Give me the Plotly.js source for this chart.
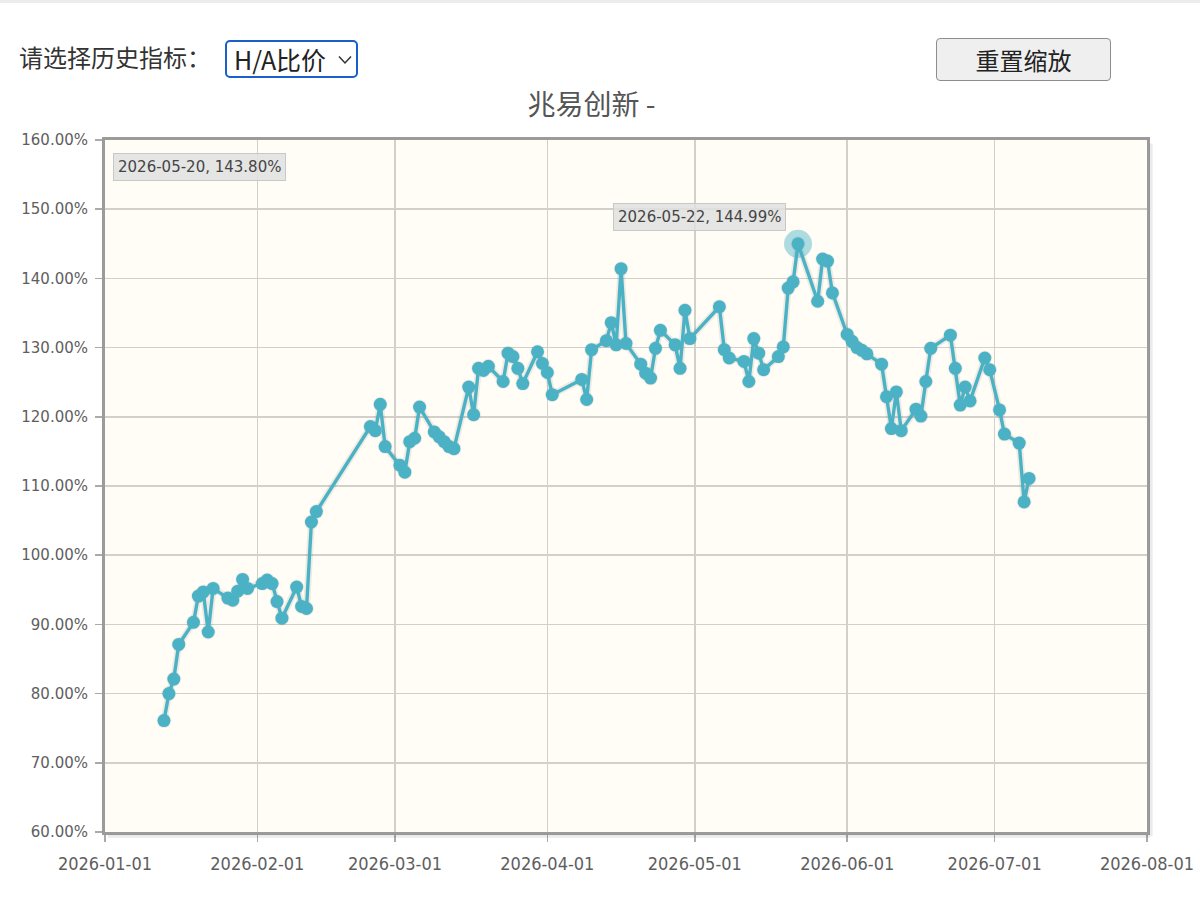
<!DOCTYPE html>
<html>
<head>
<meta charset="utf-8">
<script src="https://cdn.plot.ly/plotly-3.0.1.min.js"></script>
<style>
  html, body { margin:0; padding:0; background:#ffffff; width:1200px; height:899px; overflow:hidden; }
  #topline { position:absolute; left:0; top:0; width:1200px; height:3px; background:#ececec; }
  #lbl { position:absolute; left:19px; top:42px; font-family:"Noto Sans CJK SC", sans-serif; font-size:24px; color:#333; line-height:30px; }
  #sel { position:absolute; left:225px; top:40px; width:129px; height:34px; border:2.5px solid #1b5fc8; border-radius:5px; box-sizing:content-box;
         font-family:"Noto Sans CJK SC", sans-serif; font-size:25px; color:#222; line-height:34px; }
  #sel .t { position:absolute; left:7px; top:0; white-space:nowrap; }
  #sel svg { position:absolute; left:111px; top:13px; }
  #btn { position:absolute; left:936px; top:38px; width:173px; height:41px; background:#efefef; border:1.5px solid #8d8d8d; border-radius:4px;
         font-family:"Noto Sans CJK SC", sans-serif; font-size:24px; color:#222; line-height:41px; text-align:center; }
  #chart { position:absolute; left:0; top:0; width:1200px; height:899px; }
</style>
</head>
<body>
<div id="chart"></div>
<div id="topline"></div>
<div id="lbl">请选择历史指标：</div>
<div id="sel"><span class="t">H/A比价</span><svg width="14" height="10" viewBox="0 0 14 10"><polyline points="1,1.5 7,8 13,1.5" fill="none" stroke="#333" stroke-width="1.5"/></svg></div>
<div id="btn">重置缩放</div>
<script>
// ---- data ----
const chartTitle = "兆易创新 -";
const dates = [
  "2026-01-13","2026-01-14","2026-01-15","2026-01-16","2026-01-19","2026-01-20","2026-01-21","2026-01-22","2026-01-23",
  "2026-01-26","2026-01-27","2026-01-28","2026-01-29","2026-01-30",
  "2026-02-02","2026-02-03","2026-02-04","2026-02-05","2026-02-06","2026-02-09","2026-02-10","2026-02-11","2026-02-12","2026-02-13",
  "2026-02-24","2026-02-25","2026-02-26","2026-02-27",
  "2026-03-02","2026-03-03","2026-03-04","2026-03-05","2026-03-06","2026-03-09","2026-03-10","2026-03-11","2026-03-12","2026-03-13",
  "2026-03-16","2026-03-17","2026-03-18","2026-03-19","2026-03-20","2026-03-23","2026-03-24","2026-03-25","2026-03-26","2026-03-27",
  "2026-03-30","2026-03-31","2026-04-01","2026-04-02",
  "2026-04-08","2026-04-09","2026-04-10","2026-04-13","2026-04-14","2026-04-15","2026-04-16","2026-04-17",
  "2026-04-20","2026-04-21","2026-04-22","2026-04-23","2026-04-24","2026-04-27","2026-04-28","2026-04-29","2026-04-30",
  "2026-05-06","2026-05-07","2026-05-08","2026-05-11","2026-05-12","2026-05-13","2026-05-14","2026-05-15",
  "2026-05-18","2026-05-19","2026-05-20","2026-05-21","2026-05-22","2026-05-26","2026-05-27","2026-05-28","2026-05-29",
  "2026-06-01","2026-06-02","2026-06-03","2026-06-04","2026-06-05","2026-06-08","2026-06-09","2026-06-10","2026-06-11","2026-06-12",
  "2026-06-15","2026-06-16","2026-06-17","2026-06-18","2026-06-22","2026-06-23","2026-06-24","2026-06-25","2026-06-26",
  "2026-06-29","2026-06-30","2026-07-02","2026-07-03","2026-07-06","2026-07-07","2026-07-08"
];
const ratio = [
  76.1, 80.0, 82.1, 87.1, 90.3, 94.1, 94.7, 88.9, 95.2,
  93.8, 93.5, 94.8, 96.5, 95.2,
  95.9, 96.4, 95.9, 93.3, 90.9, 95.4, 92.6, 92.3, 104.8, 106.3,
  118.6, 118.0, 121.8, 115.7,
  113.0, 112.0, 116.4, 116.9, 121.4, 117.8, 117.1, 116.4, 115.7, 115.4,
  124.3, 120.3, 127.0, 126.7, 127.3, 125.1, 129.2, 128.7, 127.0, 124.8,
  129.4, 127.7, 126.4, 123.2,
  125.4, 122.5, 129.7, 131.0, 133.6, 130.4, 141.4, 130.6,
  127.6, 126.3, 125.6, 129.9, 132.5, 130.4, 127.0, 135.4, 131.3,
  135.9, 129.7, 128.5, 128.0, 125.1, 131.3, 129.2, 126.8,
  128.7, 130.1, 138.6, 139.5, 144.99, 136.7, 142.8, 142.5, 137.9,
  131.9, 130.9, 130.0, 129.6, 129.1, 127.6, 122.9, 118.3, 123.6, 118.0,
  121.1, 120.1, 125.1, 129.9, 131.8, 127.0, 121.7, 124.3, 122.3,
  128.5, 126.8, 121.0, 117.5, 116.2, 107.7, 111.1
];
const xTickVals = ["2026-01-01","2026-02-01","2026-03-01","2026-04-01","2026-05-01","2026-06-01","2026-07-01","2026-08-01"];
const xRange = ["2026-01-01","2026-08-01"];
const yRange = [60, 160];
const staticTooltip = "2026-05-20, 143.80%";
const highlightDate = "2026-05-22";

// ---- drawing ----
const hi = dates.indexOf(highlightDate);
const lineColor = "#4bb2c5";

const traces = [
  { // soft shadow under the line
    x: dates, y: ratio, type: "scatter", mode: "lines+markers",
    line: { color: "rgba(0,0,0,0.07)", width: 7 },
    marker: { size: 15, color: "rgba(0,0,0,0.06)" },
    hoverinfo: "skip", showlegend: false
  },
  {
    x: dates, y: ratio, type: "scatter", mode: "lines+markers",
    line: { color: lineColor, width: 3.4 },
    marker: { size: 13, color: lineColor },
    showlegend: false
  },
  { // highlighted point halo
    x: [dates[hi]], y: [ratio[hi]], type: "scatter", mode: "markers",
    marker: { size: 28, color: "rgba(75,178,197,0.45)" },
    hoverinfo: "skip", showlegend: false
  }
];

const tickFont = { family: "DejaVu Sans, sans-serif", size: 15, color: "#5e5e5e" };

const layout = {
  width: 1200, height: 899,
  margin: { l: 105, r: 53, t: 140, b: 67 },
  paper_bgcolor: "rgba(0,0,0,0)",
  plot_bgcolor: "#fffdf6",
  showlegend: false,
  title: {
    text: chartTitle, xref: "container", x: 0.493, xanchor: "center",
    yref: "container", y: 1 - 105/899, yanchor: "middle",
    font: { family: "Noto Sans CJK SC, sans-serif", size: 28, color: "#555" }
  },
  xaxis: {
    type: "date", range: xRange, tickvals: xTickVals, tickformat: "%Y-%m-%d",
    showgrid: true, gridcolor: "#d2d0cb", gridwidth: 1.5,
    zeroline: false, showline: true, linecolor: "#9b9b9b", linewidth: 3, mirror: true,
    ticks: "outside", ticklen: 7, tickwidth: 1.5, tickcolor: "#aaa",
    ticklabelstandoff: 6,
    tickfont: { family: "DejaVu Sans Condensed, DejaVu Sans, sans-serif", size: 18, color: "#5e5e5e" },
    fixedrange: true
  },
  yaxis: {
    range: yRange, dtick: 10, tick0: 60, tickformat: ".2f", ticksuffix: "%",
    showgrid: true, gridcolor: "#d2d0cb", gridwidth: 1.5,
    zeroline: false, showline: true, linecolor: "#9b9b9b", linewidth: 3, mirror: true,
    ticks: "outside", ticklen: 7, tickwidth: 1.5, tickcolor: "#aaa",
    ticklabelstandoff: 4,
    tickfont: tickFont, fixedrange: true
  },
  shapes: [
    { type: "line", xref: "paper", yref: "paper", x0: 0.003, x1: 1.003, y0: -0.006, y1: -0.006, line: { color: "rgba(0,0,0,0.08)", width: 3 } },
    { type: "line", xref: "paper", yref: "paper", x0: 1.004, x1: 1.004, y0: -0.006, y1: 0.995, line: { color: "rgba(0,0,0,0.08)", width: 3 } }
  ],
  annotations: [
    {
      xref: "paper", yref: "paper", x: 0.0077, y: 0.981, xanchor: "left", yanchor: "top",
      text: staticTooltip, showarrow: false,
      font: { family: "DejaVu Sans, sans-serif", size: 15, color: "#444" },
      bgcolor: "rgba(224,224,224,0.85)", bordercolor: "#c8c8c8", borderwidth: 1, borderpad: 4
    },
    {
      x: dates[hi], y: ratio[hi], xref: "x", yref: "y", xanchor: "right", yanchor: "bottom",
      xshift: -12, yshift: 13,
      text: dates[hi] + ", " + ratio[hi].toFixed(2) + "%", showarrow: false,
      font: { family: "DejaVu Sans, sans-serif", size: 15, color: "#444" },
      bgcolor: "rgba(224,224,224,0.85)", bordercolor: "#c8c8c8", borderwidth: 1, borderpad: 4
    }
  ]
};

Plotly.newPlot("chart", traces, layout, { displayModeBar: false, staticPlot: true });
</script>
</body>
</html>
